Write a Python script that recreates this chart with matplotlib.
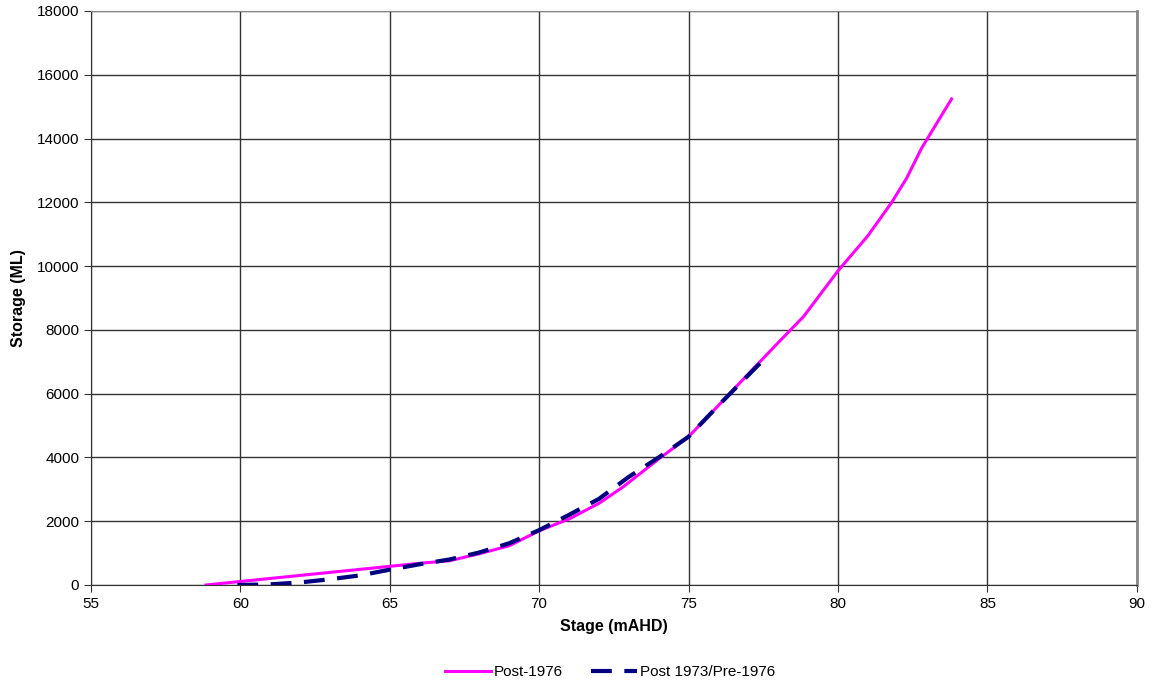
import numpy as np
import matplotlib.pyplot as plt

plt.rcParams['font.family'] = ['Liberation Sans', 'DejaVu Sans']

# Post-1976 stage-storage curve
post76_stage = [58.85, 60, 62, 64, 66, 67, 68, 69, 70, 71, 72, 72.8, 74, 75,
                76, 77, 78, 78.85, 80, 81, 81.8, 82.3, 82.8, 83.8]
post76_storage = [0, 110, 300, 490, 680, 760, 980, 1230, 1700, 2070, 2560, 3070,
                  3950, 4650, 5630, 6620, 7600, 8420, 9850, 10950, 12000, 12760,
                  13700, 15240]

# Post 1973 / Pre-1976 curve
pre76_stage = [59.9, 61, 62, 63, 64, 65, 66, 67, 68, 69, 70, 71, 72, 73, 74,
               75, 76, 77, 77.4]
pre76_storage = [0, 20, 80, 180, 300, 480, 650, 800, 1020, 1310, 1720, 2200,
                 2700, 3390, 4000, 4650, 5630, 6580, 6960]

fig = plt.figure(figsize=(11.6, 6.85), dpi=100)
ax = fig.add_axes([0.0784, 0.146, 0.9016, 0.838])

ax.plot(post76_stage, post76_storage, color='#ff00ff', lw=2.2, label='Post-1976')
ax.plot(pre76_stage, pre76_storage, color='#000080', lw=3, ls=(0, (5, 3)),
        label='Post 1973/Pre-1976')

ax.set_xlim(55, 90)
ax.set_ylim(0, 18000)
ax.set_xticks(np.arange(55, 91, 5))
ax.set_yticks(np.arange(0, 18001, 2000))
ax.grid(True, color='#333333', lw=1)
ax.set_axisbelow(True)
ax.tick_params(direction='out', length=5, labelsize=11, color='#333333')

for s in ['top', 'right']:
    ax.spines[s].set_color('#888888')
ax.spines['right'].set_linewidth(2)
ax.spines['left'].set_color('#333333')
ax.spines['bottom'].set_color('#333333')

ax.set_xlabel('Stage (mAHD)', fontsize=11.5, fontweight='bold', labelpad=6)
ax.set_ylabel('Storage (ML)', fontsize=11.5, fontweight='bold', labelpad=8)

fig.legend(loc='center', bbox_to_anchor=(0.526, 0.019), ncol=2, frameon=False,
           fontsize=11, handlelength=3.0, columnspacing=1.8, handletextpad=0.2)

plt.savefig('out.png', dpi=100)
